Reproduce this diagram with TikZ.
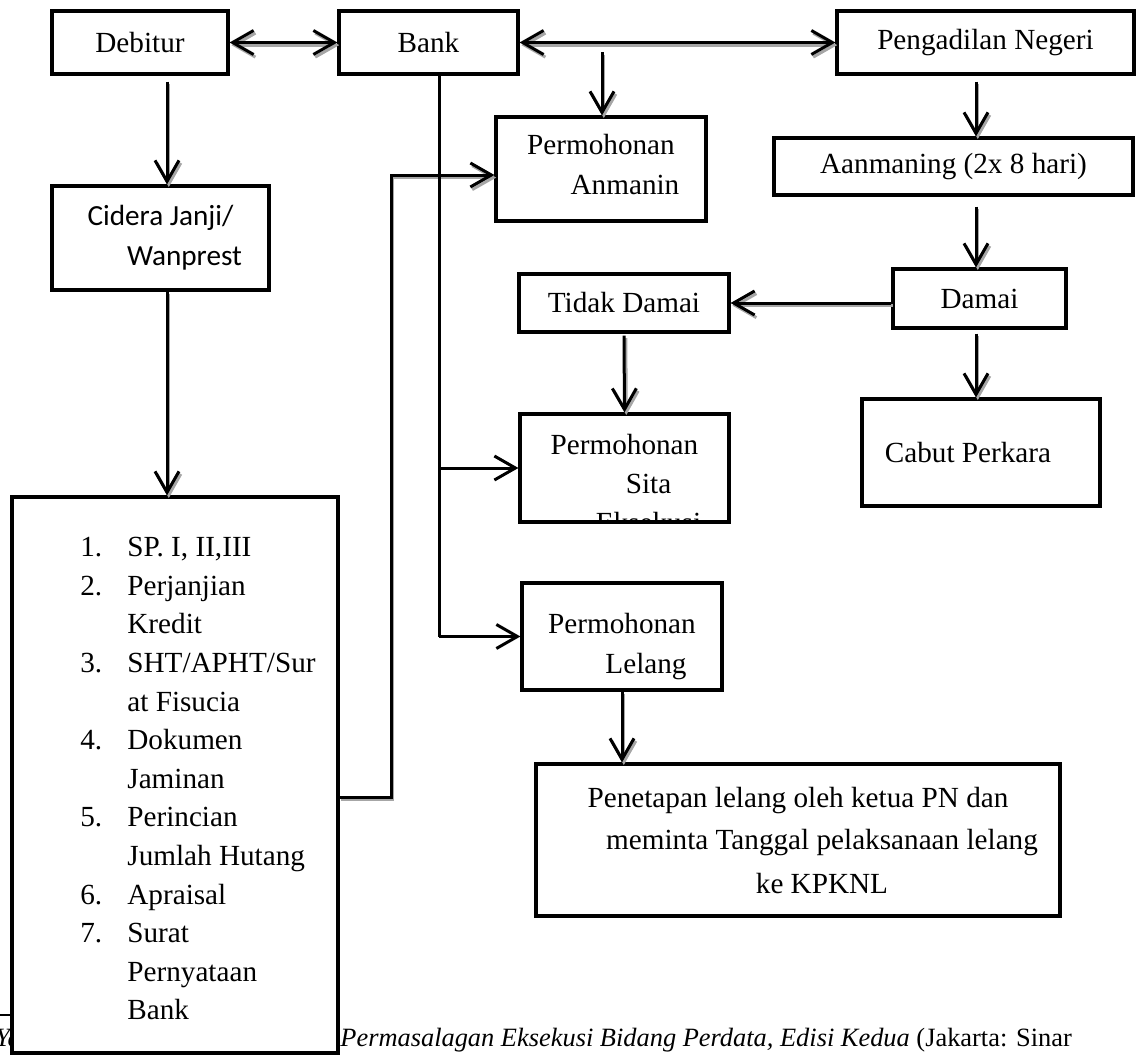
\documentclass[tikz,border=0pt]{standalone}
\usepackage{fontspec}
\setmainfont{Liberation Serif}
\newfontfamily\calfont{Carlito}
\usetikzlibrary{arrows.meta}
\newcommand{\lnind}{\hspace*{24pt}}
\newcommand{\itm}[1]{\makebox[23.5pt][l]{#1}}

\begin{document}
\begin{tikzpicture}[x=0.5pt, y=-0.5pt, >={Straight Barb[length=10.5pt,width=12pt]}]
    % Gaya kotak dan panah
    \tikzset{
        c_box/.style={draw, line width=1.6pt, inner sep=0pt, align=center, font=\fontsize{14.6}{20}\selectfont},
        c_arr/.style={->, line width=1.5pt, preaction={draw=black!35, line width=1.5pt, ->, transform canvas={shift={(0.9pt,-1.3pt)}}}},
        c_darr/.style={<->, line width=1.5pt, preaction={draw=black!35, line width=1.5pt, <->, transform canvas={shift={(0.9pt,-1.3pt)}}}},
        c_line/.style={line width=1.5pt},
        c_tip/.style={->, line width=1.5pt}
    }
    \useasboundingbox (0,0) rectangle (1137,1057);

    % Kolom panah vertikal
    \coordinate (cL) at (167,0);
    \coordinate (cR) at (976,0);
    \coordinate (trk) at (439,0);
    \coordinate (jog) at (391,0);
    \coordinate (drop) at (602,52);

    % Baris atas
    \node[c_box, minimum width=88pt, minimum height=31.5pt] (debitur) at (140,42.5) {Debitur};
    \node[c_box, minimum width=89.5pt, minimum height=31.5pt] (bank) at (428.5,42.5) {Bank};
    \node[c_box, minimum width=148.5pt, minimum height=31.5pt] (pn) at (985.5,42.5) {Pengadilan Negeri};

    % Kotak tengah dan kanan
    \node[c_box, minimum width=105pt, minimum height=52pt] (anmanin) at (601,169) {Permohonan\\\lnind Anmanin\rule[-5pt]{0pt}{5pt}};
    \node[c_box, minimum width=179.5pt, minimum height=28.5pt] (aanmaning) at (953.5,166.5) {Aanmaning (2x 8 hari)};
    \node[c_box, minimum width=86.5pt, minimum height=29.5pt] (damai) at (979.5,298.5) {Damai};
    \node[c_box, minimum width=105pt, minimum height=29pt] (tidak) at (624,303) {Tidak Damai};
    \node[c_box, minimum width=104.5pt, minimum height=54pt,
        path picture={\node[draw=none, minimum size=0pt, inner sep=0pt, anchor=north, align=center,
            font=\fontsize{14.6}{19.5}\selectfont] (sitatxt) at ([yshift=-9.5pt]path picture bounding box.north)
            {Permohonan\\\lnind Sita\\\lnind Eksekusi};}] (sita) at (624.5,468) {};
    \node[c_box, minimum width=119pt, minimum height=53.5pt] (cabut) at (981,452.5) {Cabut Perkara\kern13pt};
    \node[c_box, minimum width=100pt, minimum height=53.5pt] (lelang) at (622,636.5) {\rule{0pt}{20pt}Permohonan\\\lnind Lelang};
    \node[c_box, minimum width=262pt, minimum height=76pt, font=\fontsize{14.6}{21.5}\selectfont] (penetapan) at (798,840)
        {Penetapan lelang oleh ketua PN dan\\\lnind meminta Tanggal pelaksanaan lelang\\\lnind ke KPKNL};

    % Kolom kiri
    \node[c_box, minimum width=108.5pt, minimum height=52pt, font=\calfont\fontsize{14.6}{20}\selectfont] (cidera) at (160.5,238)
        {Cidera Janji/\\\lnind Wanprest};

    % Catatan kaki (tertutup kotak daftar)
    \draw[line width=0.6pt] (0,1015) -- (140,1015);
    \node[anchor=base west, inner sep=0pt, font=\fontsize{13.2}{16}\selectfont\itshape] (fnya) at (-5,1046) {Ya};
    \node[anchor=base west, inner sep=0pt, font=\fontsize{13.2}{16}\selectfont] (fntxt) at (340,1046)
        {\textit{Permasalagan Eksekusi Bidang Perdata, Edisi Kedua} (Jakarta: Sinar};

    \node[c_box, fill=white, minimum width=163pt, minimum height=278pt] (list) at (175,775) {};
    \node[anchor=north west, align=left, inner sep=0pt, font=\fontsize{14.6}{19.3}\selectfont] (items) at (80,537)
        {\itm{1.}SP. I, II,III\\
         \itm{2.}Perjanjian\\
         \itm{}Kredit\\
         \itm{3.}SHT/APHT/Sur\\
         \itm{}at Fisucia\\
         \itm{4.}Dokumen\\
         \itm{}Jaminan\\
         \itm{5.}Perincian\\
         \itm{}Jumlah Hutang\\
         \itm{6.}Apraisal\\
         \itm{7.}Surat\\
         \itm{}Pernyataan\\
         \itm{}Bank};

    % Panah-panah
    \draw[c_darr] (debitur) -- (bank);
    \draw[c_darr] (bank) -- (pn);
    \draw[c_arr] (drop) -- (drop |- anmanin.north);
    \draw[c_arr] ([yshift=-3pt]pn.south -| cR) -- (aanmaning.north -| cR);
    \draw[c_arr] ([yshift=-5pt]aanmaning.south -| cR) -- (damai.north -| cR);
    \draw[c_arr] (damai.west |- tidak.east) -- (tidak.east);
    \draw[c_arr] ([yshift=-2pt]damai.south -| cR) -- (cabut.north -| cR);
    \draw[c_arr] ([yshift=-1pt]tidak.south) -- (sita.north);
    \draw[c_arr] (lelang.south) -- (penetapan.north -| lelang.south);
    \draw[c_arr] ([yshift=-3pt]debitur.south -| cL) -- (cidera.north -| cL);
    \draw[c_arr] (cidera.south -| cL) -- (list.north -| cL);
    \draw[c_arr] ([yshift=-11pt]list.east) -| ([yshift=-3pt]anmanin.west -| jog) -- ([yshift=-3pt]anmanin.west);

    % Garis Bank ke permohonan
    \draw[c_line] (bank.south -| trk) -- (lelang.west -| trk);
    \draw[c_tip] (sita.west -| trk) -- (sita.west);
    \draw[c_tip] (lelang.west -| trk) -- (lelang.west);
\end{tikzpicture}
\end{document}
